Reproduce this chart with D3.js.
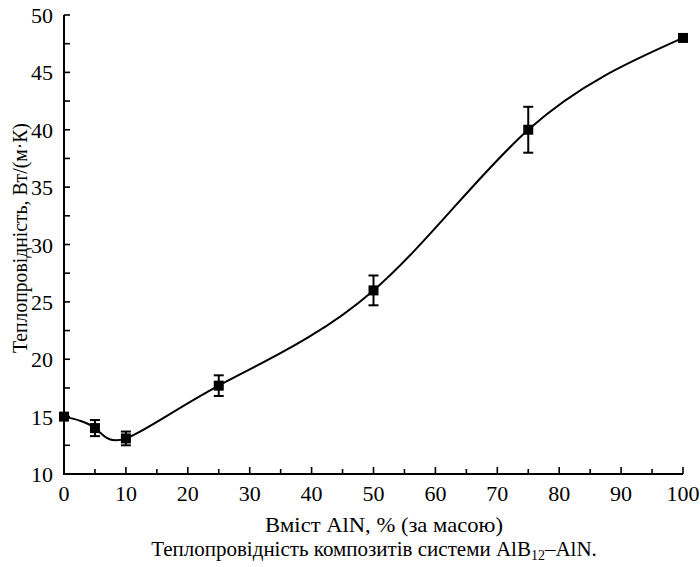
<!DOCTYPE html>
<html><head><meta charset="utf-8">
<script src="https://cdn.jsdelivr.net/npm/d3@7"></script>
<style>body{margin:0;background:#fff}</style>
</head><body><svg id="c" width="700" height="567"></svg>
<script>
const xVals = [0, 5, 10, 25, 50, 75, 100];
const yVals = [15, 14, 13.1, 17.7, 26, 40, 48];
const errVals = [0, 0.7, 0.6, 0.9, 1.3, 2, 0];
const xTicks = [0,10,20,30,40,50,60,70,80,90,100];
const yTicks = [10,15,20,25,30,35,40,45,50];
const xLabel = "Вміст AlN, % (за масою)";
const yLabel = "Теплопровідність, Вт/(м·К)";
const captionParts = ["Теплопровідність композитів системи AlB", "12", "–AlN."];

const svg = d3.select("#c");
const x = d3.scaleLinear().domain([0,100]).range([64,683]);
const y = d3.scaleLinear().domain([10,50]).range([474,15]);

function txt(sel, size){
  return sel.append("text").style("font-family",'"Liberation Serif"').attr("font-size",size).attr("fill","#000");
}
// place text by measured width instead of text-anchor
function place(t, xPos, yPos, anchor){
  const w = t.node().getComputedTextLength();
  const dx = anchor === "middle" ? w/2 : anchor === "end" ? w : 0;
  t.attr("x", xPos - dx).attr("y", yPos);
  return t;
}

const g = svg.append("g");
g.append("line").attr("x1",63).attr("x2",683).attr("y1",474).attr("y2",474).attr("stroke","#000").attr("stroke-width",2);
g.append("line").attr("x1",64).attr("x2",64).attr("y1",15).attr("y2",475).attr("stroke","#000").attr("stroke-width",2);
d3.range(0,101,5).forEach(v=>{
  const major = v%10===0;
  g.append("line").attr("x1",x(v)).attr("x2",x(v)).attr("y1",474).attr("y2",474-(major?7:5)).attr("stroke","#000").attr("stroke-width",1.6);
});
d3.range(10,50.1,2.5).forEach(v=>{
  g.append("line").attr("x1",64).attr("x2",64+6).attr("y1",y(v)).attr("y2",y(v)).attr("stroke","#000").attr("stroke-width",1.6);
});
xTicks.forEach(v=>{ place(txt(svg,22).text(v), x(v), 501, "middle"); });
yTicks.forEach(v=>{ place(txt(svg,22).text(v), 53, y(v)+8, "end"); });

const xl = txt(svg,22).text(xLabel);
const xlw = xl.node().getComputedTextLength();
const sx = 238 / xlw;
xl.attr("x",0).attr("y",0).attr("transform",`translate(${384-119},532) scale(${sx},1)`);

const cap = txt(svg,21);
cap.append("tspan").text(captionParts[0]);
cap.append("tspan").attr("font-size",14).attr("dy",4).text(captionParts[1]);
cap.append("tspan").attr("dy",-4).text(captionParts[2]);
place(cap, 374, 556, "middle");

const yl = txt(svg,22).text(yLabel);
const ylw = yl.node().getComputedTextLength();
const sy = 230 / ylw;
yl.attr("x",0).attr("y",0).attr("transform",`translate(27,${238+115}) rotate(-90) scale(${sy},1)`);

const pts = xVals.map((v,i)=>({x:v,y:yVals[i],e:errVals[i]}));
svg.append("path").datum(pts)
  .attr("d", d3.line().x(d=>x(d.x)).y(d=>y(d.y)).curve(d3.curveNatural))
  .attr("fill","none").attr("stroke","#000").attr("stroke-width",2);
const eb = svg.append("g");
pts.filter(d=>d.e>0).forEach(d=>{
  const cx=x(d.x);
  eb.append("line").attr("x1",cx).attr("x2",cx).attr("y1",y(d.y+d.e)).attr("y2",y(d.y-d.e)).attr("stroke","#000").attr("stroke-width",2);
  [d.y+d.e,d.y-d.e].forEach(v=>eb.append("line").attr("x1",cx-5).attr("x2",cx+5).attr("y1",y(v)).attr("y2",y(v)).attr("stroke","#000").attr("stroke-width",2));
});
svg.append("g").selectAll("rect").data(pts).join("rect")
  .attr("x",d=>x(d.x)-5).attr("y",d=>y(d.y)-5).attr("width",10).attr("height",10).attr("fill","#000");
</script></body></html>
